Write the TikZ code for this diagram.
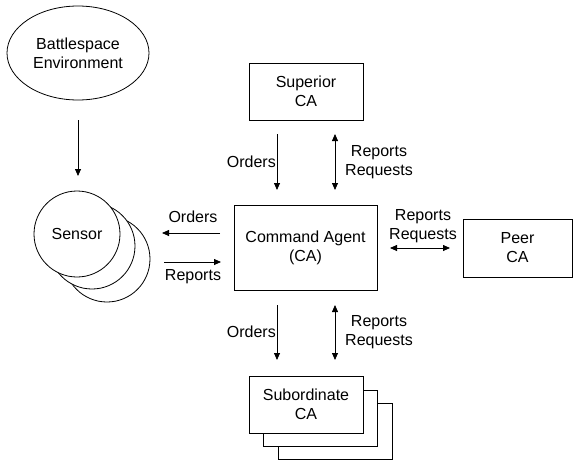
\documentclass[tikz,border=0pt]{standalone}
\usepackage{fontspec}
\setmainfont{Liberation Sans}
\usetikzlibrary{arrows.meta,shapes.geometric}
\begin{document}
\begin{tikzpicture}[x=1pt,y=-1pt,
  every node/.style={font=\fontsize{16}{19}\selectfont, align=center, inner sep=0pt},
  box/.style={draw, line width=0.8pt, fill=white},
  conn/.style={line width=0.8pt, -{Triangle[length=7pt,width=6pt]}},
  dconn/.style={line width=0.8pt, {Triangle[length=7pt,width=6pt]}-{Triangle[length=7pt,width=6pt]}}]
\useasboundingbox (0,0) rectangle (574,461);
% Battlespace
\node[box, ellipse, minimum width=142pt, minimum height=94pt] (env) at (78,53) {Battlespace\\Environment};
% Sensors
\node[box, circle, minimum size=86pt] (s3) at (107,259) {};
\node[box, circle, minimum size=86pt] (s2) at (92,246) {};
\node[box, circle, minimum size=86pt] (s1) at (77,234) {Sensor};
% Command agent
\node[box, minimum width=143pt, minimum height=85pt] (ca) at (305.5,247.5) {Command Agent\\(CA)};
% Superior
\node[box, minimum width=114pt, minimum height=57pt] (sup) at (306,91.5) {Superior\\CA};
% Peer
\node[box, minimum width=109pt, minimum height=58pt] (peer) at (517.5,248) {Peer\\CA};
% Subordinates
\node[box, minimum width=114pt, minimum height=56pt] (sub3) at (335,431.5) {};
\node[box, minimum width=114pt, minimum height=56pt] (sub2) at (320,418) {};
\node[box, minimum width=114pt, minimum height=57pt] (sub1) at (306,404.5) {Subordinate\\CA};
% connector endpoints
\coordinate (e1) at (78,120); \coordinate (e2) at (78,176);
\coordinate (so1) at (220,233); \coordinate (so2) at (162,233);
\coordinate (sr1) at (164,262); \coordinate (sr2) at (221,262);
\coordinate (uo1) at (277,134); \coordinate (uo2) at (277,190);
\coordinate (ur1) at (335,134); \coordinate (ur2) at (335,190);
\coordinate (lo1) at (277,305); \coordinate (lo2) at (277,360);
\coordinate (lr1) at (335,305); \coordinate (lr2) at (335,360);
\coordinate (p1) at (390,248); \coordinate (p2) at (450,248);
% connectors
\draw[conn] (e1) -- (e2);
\draw[conn] (so1) -- (so2);
\draw[conn] (sr1) -- (sr2);
\draw[conn] (uo1) -- (uo2);
\draw[dconn] (ur1) -- (ur2);
\draw[conn] (lo1) -- (lo2);
\draw[dconn] (lr1) -- (lr2);
\draw[dconn] (p1) -- (p2);
% labels
\node (lso) at (193,217) {Orders};
\node (lsr) at (193,277) {Reports};
\node[anchor=east] (luo) at (276,162) {Orders};
\node (lur) at (379,162) {Reports\\Requests};
\node[anchor=east] (llo) at (276,332) {Orders};
\node (llr) at (379,332) {Reports\\Requests};
\node (lp) at (423,226) {Reports\\Requests};
\end{tikzpicture}
\end{document}
